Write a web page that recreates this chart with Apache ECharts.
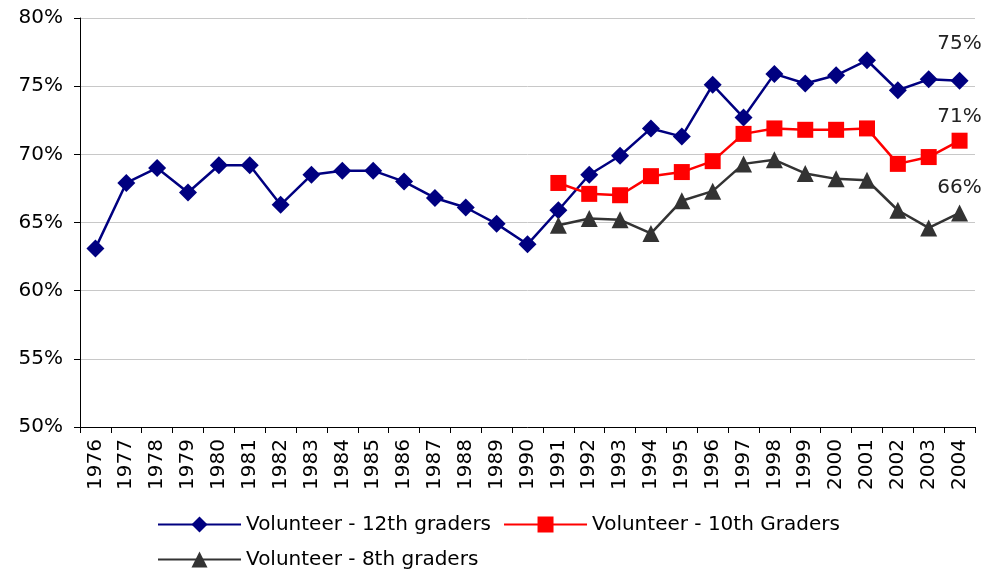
<!DOCTYPE html>
<html>
<head>
<meta charset="utf-8">
<script src="https://cdn.jsdelivr.net/npm/echarts@6/dist/echarts.min.js"></script>
<style>
  html, body { margin: 0; padding: 0; background: #fff; }
  #chart { width: 987px; height: 573px; }
</style>
</head>
<body>
<div id="chart"></div>
<script>
const years = ["1976", "1977", "1978", "1979", "1980", "1981", "1982", "1983", "1984", "1985",
  "1986", "1987", "1988", "1989", "1990", "1991", "1992", "1993", "1994", "1995",
  "1996", "1997", "1998", "1999", "2000", "2001", "2002", "2003", "2004"];

// percent values
const grade12 = [63.1, 67.9, 69.0, 67.2, 69.2, 69.2, 66.3, 68.5, 68.8, 68.8,
  68.0, 66.8, 66.1, 64.9, 63.4, 65.9, 68.5, 69.9, 71.9, 71.3,
  75.1, 72.7, 75.9, 75.2, 75.8, 76.9, 74.7, 75.5, 75.4];
const grade10 = [null, null, null, null, null, null, null, null, null, null,
  null, null, null, null, null, 67.9, 67.1, 67.0, 68.4, 68.7,
  69.5, 71.5, 71.9, 71.8, 71.8, 71.9, 69.3, 69.8, 71.0];
const grade8 = [null, null, null, null, null, null, null, null, null, null,
  null, null, null, null, null, 64.8, 65.3, 65.2, 64.2, 66.6,
  67.3, 69.3, 69.6, 68.6, 68.2, 68.1, 65.9, 64.6, 65.7];

const endLabels = ["75%", "71%", "66%"];

const font = "DejaVu Sans";

function withEndLabel(arr, text, dist) {
  return arr.map(function (v, i) {
    if (i !== arr.length - 1) return v;
    return {
      value: v,
      label: {
        show: true, position: "top", distance: dist,
        formatter: text, color: "#222", fontSize: 20, fontFamily: font
      }
    };
  });
}

const myChart = echarts.init(document.getElementById("chart"));
const option = {
  animation: false,
  grid: { left: 80, right: 12, top: 18, bottom: 146 },
  legend: {
    left: 152, top: 508, width: 740,
    itemWidth: 83, itemHeight: 20, itemGap: 12,
    padding: [5, 5, 5, 5],
    textStyle: { fontFamily: font, fontSize: 20, color: "#000", lineHeight: 23 },
    data: ["Volunteer - 12th graders", "Volunteer - 10th Graders", "Volunteer - 8th graders"]
  },
  xAxis: {
    type: "category",
    data: years,
    boundaryGap: true,
    axisLine: { lineStyle: { color: "#000", width: 1 } },
    axisTick: { show: true, alignWithLabel: false, length: 6, lineStyle: { color: "#000" } },
    axisLabel: { rotate: 90, interval: 0, color: "#000", fontFamily: font, fontSize: 20, margin: 12 }
  },
  yAxis: {
    type: "value",
    min: 50, max: 80, interval: 5,
    axisLine: { show: true, lineStyle: { color: "#000", width: 1 } },
    axisTick: { show: true, length: 6, lineStyle: { color: "#000" } },
    splitLine: { lineStyle: { color: "#c8c8c8", width: 1 } },
    axisLabel: { formatter: "{value}%", color: "#000", fontFamily: font, fontSize: 20, margin: 17 }
  },
  series: [
    {
      name: "Volunteer - 12th graders",
      type: "line",
      data: withEndLabel(grade12, endLabels[0], 18),
      symbol: "diamond", symbolSize: 18,
      lineStyle: { color: "#000080", width: 2.5 },
      itemStyle: { color: "#000080" }
    },
    {
      name: "Volunteer - 10th Graders",
      type: "line",
      data: withEndLabel(grade10, endLabels[1], 6),
      symbol: "rect", symbolSize: 16,
      lineStyle: { color: "#ff0000", width: 2.5 },
      itemStyle: { color: "#ff0000" }
    },
    {
      name: "Volunteer - 8th graders",
      type: "line",
      data: withEndLabel(grade8, endLabels[2], 7),
      symbol: "triangle", symbolSize: 17,
      lineStyle: { color: "#333333", width: 2.5 },
      itemStyle: { color: "#333333" }
    }
  ]
};
myChart.setOption(option);
</script>
</body>
</html>
